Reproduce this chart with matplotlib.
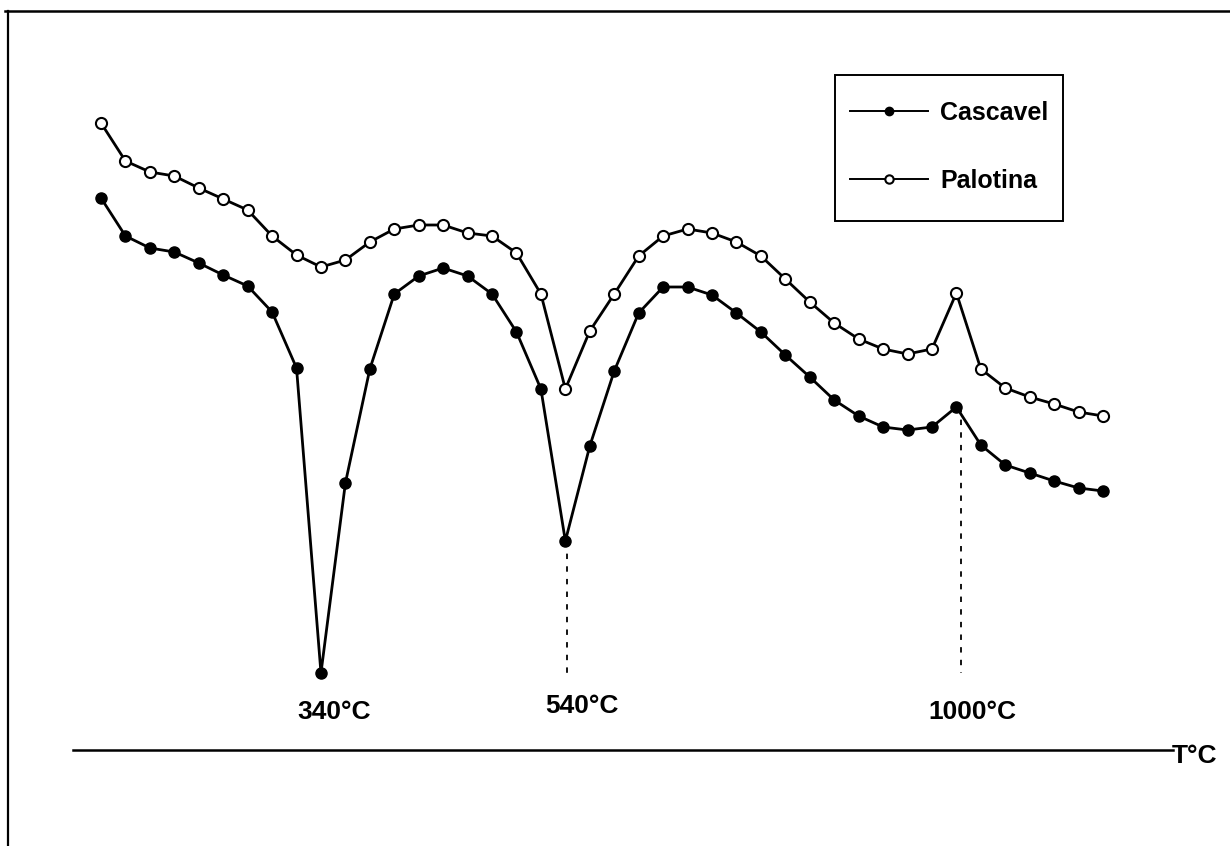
import matplotlib
matplotlib.use("Agg")
import matplotlib.pyplot as plt
from matplotlib.lines import Line2D
from matplotlib.patches import Rectangle

plt.rcParams['font.family'] = ['Liberation Sans', 'DejaVu Sans']

# Data: DTA signal (arbitrary units, height above baseline) per measurement step
step = list(range(42))
cascavel = [55.2, 51.4, 50.2, 49.8, 48.7, 47.5, 46.4, 43.8, 38.2, 7.7,
            26.7, 38.1, 45.6, 47.4, 48.2, 47.4, 45.6, 41.8, 36.1, 20.9,
            30.4, 37.9, 43.7, 46.3, 46.3, 45.5, 43.7, 41.8, 39.5, 37.3,
            35.0, 33.4, 32.3, 32.0, 32.3, 34.3, 30.5, 28.5, 27.7, 26.9,
            26.2, 25.9]
palotina = [62.7, 58.9, 57.8, 57.4, 56.2, 55.1, 54.0, 51.4, 49.5, 48.3,
            49.0, 50.8, 52.1, 52.5, 52.5, 51.7, 51.4, 49.7, 45.6, 36.1,
            41.9, 45.6, 49.4, 51.4, 52.1, 51.7, 50.8, 49.4, 47.1, 44.8,
            42.7, 41.1, 40.1, 39.6, 40.1, 45.7, 38.1, 36.2, 35.3, 34.6,
            33.8, 33.4]
peak_steps = [9, 19, 35]
peak_labels = ['340°C', '540°C', '1000°C']
dashed_peaks = [19, 35]
axis_label = 'T°C'

W, H = 1230, 846
fig = plt.figure(figsize=(W / 100, H / 100), dpi=100)
ax = fig.add_axes([0, 0, 1, 1])
ax.set_xlim(-4.133, 46.195)
ax.set_ylim(-9.6, 75.0)
ax.axis('off')

ax.plot(step, cascavel, color='black', lw=2.0, marker='o', ms=8,
        mfc='black', mec='black', label='Cascavel', zorder=3)
ax.plot(step, palotina, color='black', lw=2.0, marker='o', ms=8,
        mfc='white', mec='black', mew=1.5, label='Palotina', zorder=3)

# dashed guide lines under peaks
dash_dx = {19: 0.07, 35: 0.2}
for p in dashed_peaks:
    ax.plot([p + dash_dx[p]] * 2, [cascavel[p], 7.7], color='black', lw=1.3,
            ls=(0, (3, 4)), zorder=1)

# temperature labels
label_off = {9: (0.53, 3.8), 19: (0.68, 4.4), 35: (0.64, 3.8)}
for p, t in zip(peak_steps, peak_labels):
    dx, yy = label_off[p]
    ax.text(p + dx, yy, t, ha='center', va='center', fontsize=19,
            fontweight='bold')

# baseline and axis label
ax.plot([-1.15, 43.85], [0, 0], color='black', lw=1.8)
ax.text(43.8, -0.6, axis_label, ha='left', va='center', fontsize=19,
        fontweight='bold')

# legend (box drawn separately)
fig.add_artist(Rectangle((835 / W, 1 - 221 / H), (1063 - 835) / W,
                         (221 - 75) / H, transform=fig.transFigure,
                         fill=False, edgecolor='black', lw=1.4))
leg = ax.legend(loc='upper left', bbox_to_anchor=(850 / W, 1 - 101 / H),
                bbox_transform=fig.transFigure, borderaxespad=0,
                fontsize=18, frameon=False, markerscale=0.75,
                handlelength=3.1, handletextpad=0.5, labelspacing=1.75,
                borderpad=0)
for txt in leg.get_texts():
    txt.set_fontweight('bold')
for h in leg.get_lines():
    h.set_linewidth(1.4)

# outer frame (left and top)
fig.add_artist(Line2D([8 / W, 8 / W], [0, 1 - 11 / H],
                      color='black', lw=1.6, transform=fig.transFigure))
fig.add_artist(Line2D([5 / W, 1], [1 - 11 / H, 1 - 11 / H],
                      color='black', lw=1.8, transform=fig.transFigure))

fig.savefig('out.png', dpi=100, facecolor='white')
